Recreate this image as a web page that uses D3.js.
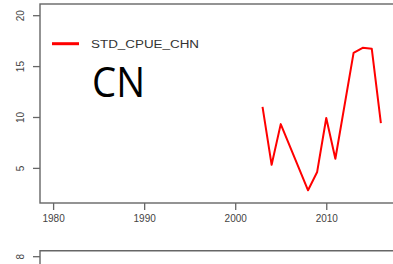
<!DOCTYPE html>
<html lang="en">
<head>
  <meta charset="UTF-8">
  <title>STD_CPUE_CHN</title>
  <style>
    body { margin: 0; background: #fff; }
    svg { display: block; }
  </style>
</head>
<body>
  <div id="chart"></div>
  <script src="https://d3js.org/d3.v7.min.js"></script>
  <script>

    // values
    const years = [2003, 2004, 2005, 2008, 2009, 2010, 2011, 2013, 2014, 2015, 2016];
    const cpue  = [11.0, 5.3, 9.3, 2.8, 4.6, 9.9, 5.9, 16.3, 16.8, 16.7, 9.4];
    const xTicks = [1980, 1990, 2000, 2010];
    const yTicks = [5, 10, 15, 20];
    const seriesName = "STD_CPUE_CHN";
    const panelLabel = "CN";

    const width = 393,
          height = 264,
          margin = {top: 4, right: -1, bottom: 61, left: 40};

    const axisColor = "#666";

    const svg = d3.select("#chart")
      .append("svg")
      .attr("width", width)
      .attr("height", height);

    const data = years.map((y, i) => ({year: y, value: cpue[i]}));

    let x = d3.scaleLinear([1978.56, 2017.44], [margin.left, width - margin.right]);
    let y = d3.scaleLinear([1.55, 21.1], [height - margin.bottom, margin.top]);

    // plot box
    svg.append("rect")
      .attr("x", margin.left)
      .attr("y", margin.top)
      .attr("width", width - margin.right - margin.left)
      .attr("height", height - margin.bottom - margin.top)
      .attr("fill", "none")
      .attr("stroke", axisColor)
      .attr("stroke-width", 1.4);

    // x axis
    const xAxis = svg.append("g")
      .attr("transform", `translate(0,${height - margin.bottom})`)
      .call(d3.axisBottom(x).tickValues(xTicks).tickFormat(d3.format("d")).tickSize(7).tickPadding(5));
    xAxis.select(".domain").remove();

    // y axis, labels turned like R's default
    const yAxis = svg.append("g")
      .attr("transform", `translate(${margin.left},0)`)
      .call(d3.axisLeft(y).tickValues(yTicks).tickSize(7));
    yAxis.select(".domain").remove();
    yAxis.selectAll("text")
      .attr("x", null)
      .attr("dy", null)
      .attr("y", 0)
      .attr("text-anchor", "middle")
      .attr("transform", "translate(-16.5,0) rotate(-90)");

    svg.selectAll(".tick line")
      .attr("stroke", axisColor)
      .attr("stroke-width", 1.3);
    svg.selectAll(".tick text")
      .attr("fill", "#444")
      .style("font-family", "'Liberation Sans', Arial, sans-serif")
      .style("font-size", "10px");

    // series
    svg.append("path")
      .datum(data)
      .attr("fill", "none")
      .attr("stroke", "#ff0000")
      .attr("stroke-width", 2)
      .attr("stroke-linejoin", "round")
      .attr("d", d3.line().x(d => x(d.year)).y(d => y(d.value)));

    // legend
    svg.append("line")
      .attr("x1", 52)
      .attr("x2", 79)
      .attr("y1", 43.7)
      .attr("y2", 43.7)
      .attr("stroke", "#ff0000")
      .attr("stroke-width", 3);

    svg.append("text")
      .attr("x", 91)
      .attr("y", 47.5)
      .attr("fill", "#333")
      .attr("textLength", 108)
      .attr("lengthAdjust", "spacingAndGlyphs")
      .style("font-family", "'Liberation Sans', Arial, sans-serif")
      .style("font-size", "10px")
      .text(seriesName);

    svg.append("text") // big panel label
      .attr("x", 92)
      .attr("y", 96.7)
      .attr("fill", "#000")
      .attr("textLength", 53)
      .attr("lengthAdjust", "spacingAndGlyphs")
      .style("font-family", "'Open Sans', 'Noto Sans', sans-serif")
      .style("font-size", "42px")
      .text(panelLabel);

    // top of the next panel peeking in at the bottom
    svg.append("path")
      .attr("d", `M${margin.left},${height + 5}V250.7H${width + 2}`)
      .attr("fill", "none")
      .attr("stroke", axisColor)
      .attr("stroke-width", 1.4);

    svg.append("line")
      .attr("x1", margin.left - 7)
      .attr("x2", margin.left)
      .attr("y1", 256.7)
      .attr("y2", 256.7)
      .attr("stroke", axisColor)
      .attr("stroke-width", 1.3);

    svg.append("text")
      .attr("transform", "translate(23.5,256.7) rotate(-90)")
      .attr("text-anchor", "middle")
      .attr("fill", "#444")
      .style("font-family", "'Liberation Sans', Arial, sans-serif")
      .style("font-size", "10px")
      .text("8");

  </script>
</body>
</html>
